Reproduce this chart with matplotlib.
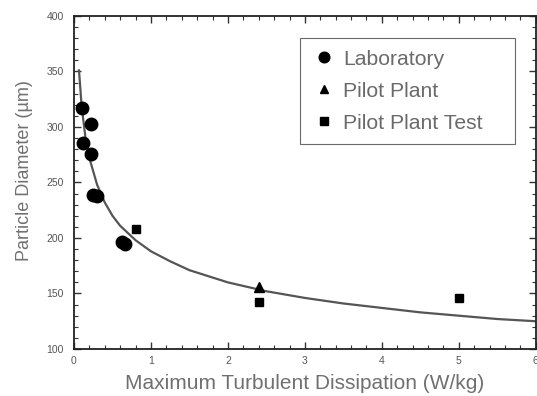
import matplotlib
matplotlib.use("Agg")
import matplotlib.pyplot as plt
from matplotlib.ticker import MultipleLocator

# Data
lab_x = [0.10, 0.22, 0.12, 0.22, 0.25, 0.30, 0.63, 0.66]
lab_y = [317, 303, 286, 276, 239, 238, 196, 195]

pilot_x = [2.40]
pilot_y = [156]

test_x = [0.80, 2.40, 5.00]
test_y = [208, 142, 146]

curve_x = [0.065, 0.1, 0.15, 0.2, 0.3, 0.4, 0.5, 0.6, 0.8, 1.0, 1.25, 1.5,
           2.0, 2.5, 3.0, 3.5, 4.0, 4.5, 5.0, 5.5, 6.0]
curve_y = [351, 318, 290, 272, 248, 232, 220, 211, 198, 188, 179, 171,
           160, 152, 146, 141, 137, 133, 130, 127, 125]

x_ticks = [0, 1, 2, 3, 4, 5, 6]
y_ticks = [100, 150, 200, 250, 300, 350, 400]

plt.rcParams['font.family'] = ['Liberation Sans', 'DejaVu Sans']

fig = plt.figure(figsize=(5.37, 3.96), dpi=100)
ax = fig.add_axes([0.1378, 0.1187, 0.860, 0.8409])

ax.plot(curve_x, curve_y, color='#555555', lw=1.6, zorder=2)
ax.plot(lab_x, lab_y, 'o', color='black', ms=9, ls='none', label='Laboratory', zorder=3)
ax.plot(pilot_x, pilot_y, '^', color='black', ms=7, ls='none', label='Pilot Plant', zorder=3)
ax.plot(test_x, test_y, 's', color='black', ms=6, ls='none', label='Pilot Plant Test', zorder=3)

ax.set_xlim(0, 6)
ax.set_ylim(100, 400)
ax.set_xticks(x_ticks)
ax.set_yticks(y_ticks)
ax.xaxis.set_minor_locator(MultipleLocator(0.2))
ax.yaxis.set_minor_locator(MultipleLocator(10))
ax.tick_params(which='both', direction='in', top=True, right=True,
               labelsize=7.5, labelcolor='#555555', color='#333333')
ax.tick_params(which='major', length=5, width=1)
ax.tick_params(which='minor', length=3, width=0.8)
ax.tick_params(axis='y', which='major', pad=7.5)
ax.tick_params(axis='x', which='major', pad=5)
for s in ax.spines.values():
    s.set_linewidth(1.3)
    s.set_color('#222222')

ax.set_xlabel('Maximum Turbulent Dissipation (W/kg)', fontsize=15, color='#707070', labelpad=6)
ax.set_ylabel('Particle Diameter (\u00b5m)', fontsize=13, color='#707070')
ax.yaxis.set_label_coords(-0.088, 0.535)

leg = ax.legend(loc='upper left', bbox_to_anchor=(0.489, 0.622, 0.4655, 0.312),
                mode='expand', fontsize=15.2, markerscale=0.85,
                frameon=True, fancybox=False, edgecolor='#444444',
                borderpad=0.55, labelspacing=0.62, handletextpad=0.3,
                handlelength=1.2, borderaxespad=0)
leg.get_frame().set_linewidth(0.8)
for t in leg.get_texts():
    t.set_color('#6a6a6a')

fig.savefig('out.png', dpi=100)
